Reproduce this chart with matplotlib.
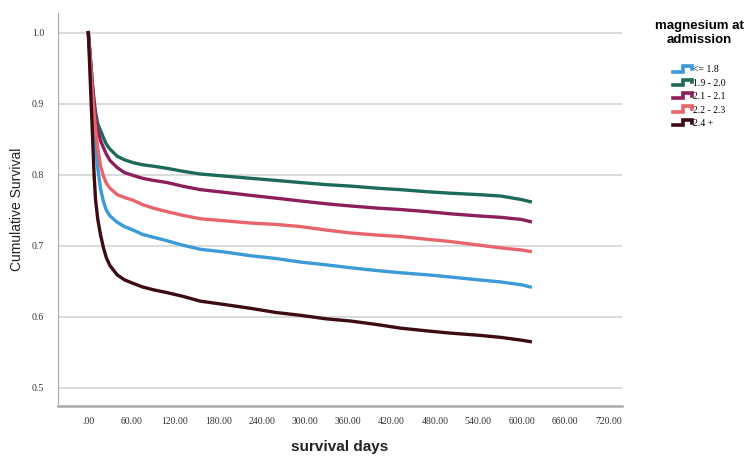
import numpy as np
import matplotlib.pyplot as plt
from matplotlib.legend_handler import HandlerBase
from matplotlib.lines import Line2D

# ---------------------------
# data
# ---------------------------
days = [0, 2, 4, 6, 8, 10, 13, 17, 21, 25, 30, 40, 50, 62, 75, 90, 109, 130,
        155, 190, 224, 260, 294, 330, 363, 400, 432, 470, 501, 540, 571, 600, 612]

surv_18 = [1.0, 0.97, 0.935, 0.9, 0.87, 0.845, 0.81, 0.78, 0.762, 0.75, 0.742,
           0.733, 0.727, 0.722, 0.716, 0.712, 0.707, 0.701, 0.695, 0.691, 0.686,
           0.682, 0.677, 0.673, 0.669, 0.665, 0.662, 0.659, 0.656, 0.652, 0.649,
           0.645, 0.642]
surv_19 = [1.0, 0.975, 0.95, 0.925, 0.905, 0.888, 0.872, 0.862, 0.852, 0.843, 0.836,
           0.826, 0.821, 0.817, 0.814, 0.812, 0.809, 0.805, 0.801, 0.798, 0.795,
           0.792, 0.789, 0.786, 0.784, 0.781, 0.779, 0.776, 0.774, 0.772, 0.770,
           0.765, 0.762]
surv_21 = [1.0, 0.975, 0.948, 0.922, 0.9, 0.88, 0.862, 0.848, 0.838, 0.829, 0.82,
           0.81, 0.803, 0.799, 0.795, 0.792, 0.789, 0.784, 0.779, 0.775, 0.771,
           0.767, 0.763, 0.759, 0.756, 0.753, 0.751, 0.748, 0.745, 0.742, 0.740,
           0.737, 0.734]
surv_22 = [1.0, 0.972, 0.942, 0.912, 0.886, 0.864, 0.838, 0.812, 0.798, 0.788, 0.781,
           0.772, 0.768, 0.764, 0.758, 0.753, 0.748, 0.743, 0.738, 0.735, 0.732,
           0.730, 0.727, 0.722, 0.718, 0.715, 0.713, 0.709, 0.706, 0.701, 0.697,
           0.694, 0.692]
surv_24 = [1.0, 0.95, 0.9, 0.85, 0.8, 0.765, 0.738, 0.715, 0.697, 0.683, 0.672,
           0.659, 0.652, 0.647, 0.642, 0.638, 0.634, 0.629, 0.622, 0.617, 0.612,
           0.606, 0.602, 0.597, 0.594, 0.589, 0.584, 0.580, 0.577, 0.574, 0.571,
           0.567, 0.565]

groups = ['<= 1.8', '1.9 - 2.0', '2.1 - 2.1', '2.2 - 2.3', '2.4 +']
series = [surv_18, surv_19, surv_21, surv_22, surv_24]
colors = ['#3b9ad8', '#1d6a5b', '#8c1f5c', '#e8646c', '#3d0c12']

x_ticks = np.arange(0, 721, 60)
x_ticklabels = ['.00'] + ['%d.00' % v for v in x_ticks[1:]]
y_ticks = [0.5, 0.6, 0.7, 0.8, 0.9, 1.0]


# step-shaped legend key
class StepHandler(HandlerBase):
    def create_artists(self, legend, orig_handle, xdescent, ydescent,
                       width, height, fontsize, trans):
        x0, x1 = -xdescent, -xdescent + width
        lo, hi = -ydescent + 0.1 * height, -ydescent + 0.9 * height
        xm = x0 + 0.55 * width
        xs = [x0, xm, xm, x1, x1]
        ys = [lo, lo, hi, hi, hi - 0.4 * height]
        ln = Line2D(xs, ys, color=orig_handle.get_color(), lw=2.6,
                    solid_joinstyle='miter', transform=trans)
        return [ln]


fig = plt.figure(figsize=(7.53, 4.57), dpi=100)
ax = fig.add_axes([0.077, 0.112, 0.749, 0.86])

handles = []
for name, vals, c in zip(groups, series, colors):
    h, = ax.plot(days, vals, color=c, lw=2.4, label=name, zorder=3,
                 solid_joinstyle='round')
    handles.append(h)

ax.set_xlim(-42, 739)
ax.set_ylim(0.4746, 1.028)
ax.set_xticks(x_ticks)
ax.set_xticklabels(x_ticklabels, fontsize=7, family='Liberation Serif', color='#333333')
ax.set_yticks(y_ticks)
ax.set_yticklabels(['%.1f' % v for v in y_ticks], fontsize=7,
                   family='Liberation Serif', color='#333333')
ax.tick_params(axis='x', length=0, pad=8)
ax.tick_params(axis='y', length=0, pad=10)

ax.grid(axis='y', color='#d4d4d4', lw=1.2, zorder=0)
for s in ['top', 'right']:
    ax.spines[s].set_visible(False)
ax.spines['left'].set_color('#aaaaaa')
ax.spines['bottom'].set_color('#aaaaaa')
ax.spines['bottom'].set_linewidth(1.8)

ax.set_xlabel('survival days', fontsize=11, family='Liberation Sans',
              fontweight='bold', labelpad=10, color='#222222')
ax.set_ylabel('Cumulative Survival', fontsize=10, family='Liberation Sans',
              labelpad=6, color='#222222')

leg = fig.legend(handles, groups, handler_map={Line2D: StepHandler()},
                 loc='upper left', bbox_to_anchor=(0.858, 0.975), frameon=False,
                 title='magnesium at\nadmission', handlelength=1.9,
                 handletextpad=0.1, labelspacing=0.45,
                 prop={'family': 'Liberation Serif', 'size': 7})
leg.get_title().set_fontsize(9.5)
leg.get_title().set_fontweight('bold')
leg.get_title().set_family('Liberation Sans')
leg.get_title().set_multialignment('center')
leg._legend_box.align = 'center'
leg._legend_box.sep = 14

fig.savefig('out.png', dpi=100)
